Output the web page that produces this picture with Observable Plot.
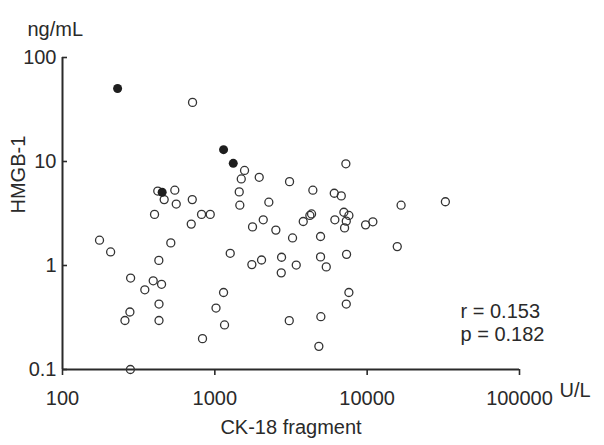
<!DOCTYPE html>
<html>
<head>
<meta charset="utf-8">
<script src="https://cdn.jsdelivr.net/npm/d3@7"></script>
<script src="https://cdn.jsdelivr.net/npm/@observablehq/plot@0.6"></script>
<style>
  html, body { margin: 0; padding: 0; background: #fff; }
  #chart svg { display: block; }
</style>
</head>
<body>
<div id="chart"></div>
<script>
// CK-18 fragment (U/L) and HMGB-1 (ng/mL), open circles
const ck18Open = [714, 422, 546, 465, 558, 711, 402, 818, 933, 700,
  175, 207, 514, 429, 1262, 1567, 1491, 1956, 7248, 3094,
  4400, 6081, 6761, 1446, 1459, 2262, 4205, 4315, 3805, 7031,
  7586, 6136, 7292, 7106, 9761, 10900, 2079, 1768, 2515, 3237,
  4943, 1750, 2026, 2742, 2729, 3423, 4943, 5389, 7323, 1141,
  1158, 3080, 4966, 4818, 7586, 7292, 16700, 32620, 15760, 280,
  394, 447, 347, 430, 277, 257, 430, 1018, 830, 279];
const hmgbOpen = [37, 5.2, 5.3, 4.3, 3.9, 4.3, 3.1, 3.1, 3.1, 2.5,
  1.75, 1.35, 1.65, 1.12, 1.31, 8.2, 6.8, 7.05, 9.5, 6.4,
  5.3, 4.95, 4.67, 5.1, 3.8, 4.06, 3.03, 3.13, 2.65, 3.25,
  3.03, 2.75, 2.67, 2.3, 2.46, 2.63, 2.75, 2.35, 2.19, 1.84,
  1.9, 1.02, 1.13, 1.2, 0.85, 1.01, 1.21, 0.97, 1.28, 0.55,
  0.268, 0.295, 0.322, 0.167, 0.55, 0.426, 3.8, 4.1, 1.52, 0.757,
  0.713, 0.659, 0.584, 0.426, 0.357, 0.296, 0.296, 0.39, 0.198, 0.1];
// filled circles
const ck18Filled = [230, 1141, 1321, 451];
const hmgbFilled = [50.4, 13.0, 9.6, 5.06];

const xTicks = [100, 1000, 10000, 100000];
const yTicks = [0.1, 1, 10, 100];
const yTickLabels = ["0.1", "1", "10", "100"];
const statLines = ["r = 0.153", "p = 0.182"];

const openData = ck18Open.map((x, i) => ({x, y: hmgbOpen[i]}));
const filledData = ck18Filled.map((x, i) => ({x, y: hmgbFilled[i]}));

const FONT = "'Liberation Sans', Arial, Helvetica, sans-serif";
const INK = "#2a2a2a";

const chart = Plot.plot({
  width: 604,
  height: 445,
  marginTop: 57,
  marginRight: 85,
  marginBottom: 76,
  marginLeft: 62,
  style: {fontFamily: FONT, fontSize: "20px", color: INK, background: "#fff"},
  x: {type: "log", domain: [100, 100000]},
  y: {type: "log", domain: [0.1, 100]},
  marks: [
    Plot.axisX({ticks: xTicks, tickSize: 6, tickPadding: 15, tickFormat: d => String(d),
      label: null, fontSize: 20, stroke: INK, strokeWidth: 1.6}),
    Plot.axisY({ticks: yTicks, tickSize: 0, tickPadding: 6,
      tickFormat: d => yTickLabels[yTicks.indexOf(d)], label: null, fontSize: 20}),
    Plot.axisY({ticks: yTicks, tickSize: 5, dx: 5, tickFormat: () => "", label: null,
      stroke: INK, strokeWidth: 1.6}),
    Plot.ruleX([100], {stroke: INK, strokeWidth: 2}),
    Plot.ruleY([0.1], {stroke: INK, strokeWidth: 2}),
    Plot.dot(openData, {x: "x", y: "y", r: 4, stroke: "#333", strokeWidth: 1.3, fill: "none"}),
    Plot.dot(filledData, {x: "x", y: "y", r: 4.5, fill: "#1e1e1e", stroke: "none"}),
    Plot.text(["ng/mL"], {frameAnchor: "top-left", dx: -35, dy: -35.4, textAnchor: "start", fontSize: 20, fill: INK}),
    Plot.text(["HMGB-1"], {frameAnchor: "left", dx: -44, rotate: -90, fontSize: 20, fill: INK}),
    Plot.text(["CK-18 fragment"], {frameAnchor: "bottom", dy: 64.6, fontSize: 20, fill: INK}),
    Plot.text(["U/L"], {frameAnchor: "bottom-right", dx: 40, dy: 27.6, textAnchor: "start", fontSize: 20, fill: INK}),
    Plot.text([statLines[0]], {frameAnchor: "bottom-right", dx: -59, dy: -51.4, textAnchor: "start", fontSize: 20, fill: INK}),
    Plot.text([statLines[1]], {frameAnchor: "bottom-right", dx: -59, dy: -28.4, textAnchor: "start", fontSize: 20, fill: INK})
  ]
});
document.getElementById("chart").appendChild(chart);
</script>
</body>
</html>
